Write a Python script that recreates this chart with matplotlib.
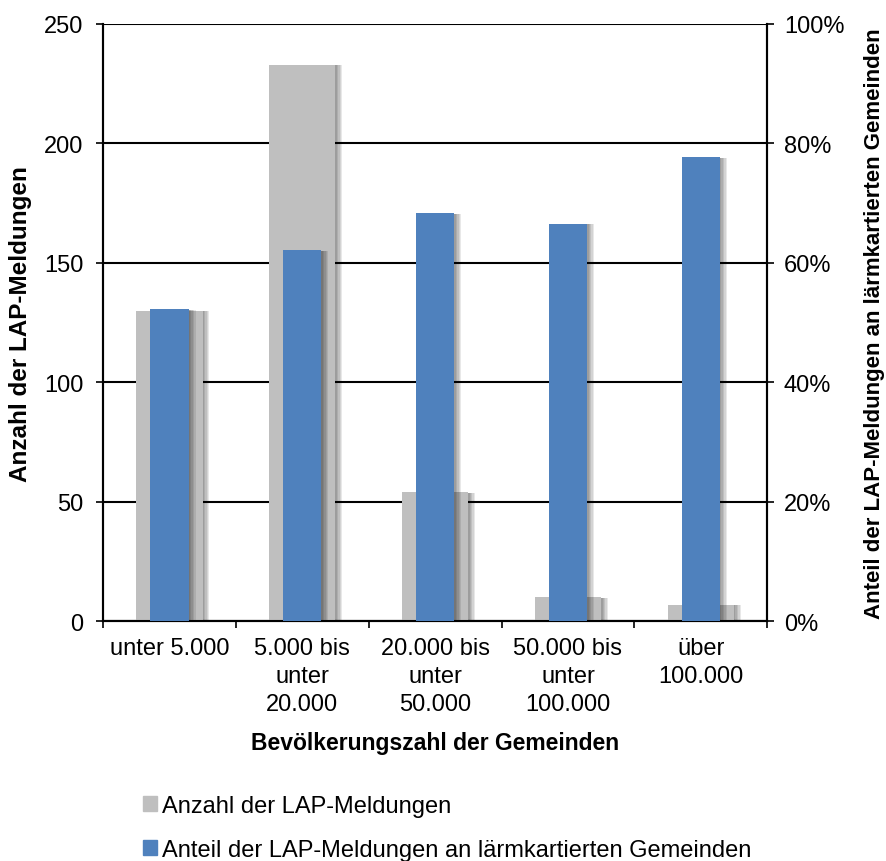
import numpy as np
import matplotlib.pyplot as plt
import matplotlib.patheffects as pe
from matplotlib.patches import Patch
from matplotlib.ticker import PercentFormatter

plt.rcParams['font.family'] = ['Liberation Sans', 'DejaVu Sans']

# Werte
kategorien = ['unter 5.000', '5.000 bis\nunter\n20.000', '20.000 bis\nunter\n50.000',
              '50.000 bis\nunter\n100.000', 'über\n100.000']
anzahl = [130, 233, 54, 10, 7]
anteil = [52.3, 62.1, 68.3, 66.6, 77.7]

grau = '#bfbfbf'
blau = '#4f81bd'
fs = 17

fig = plt.figure(figsize=(8.87, 8.62), dpi=100)
ax = fig.add_axes([0.116, 0.278, 0.749, 0.693])
ax2 = ax.twinx()

x = np.arange(len(kategorien))
# weicher Schatten nach rechts
schatten = [pe.SimplePatchShadow(offset=(d, -0.5), shadow_rgbFace='black', alpha=0.09)
            for d in (1, 2, 3, 4, 5)] + [pe.Normal()]

b1 = ax.bar(x, anzahl, width=0.5, color=grau, zorder=3)
for p in b1:
    p.set_path_effects(schatten)
b2 = ax2.bar(x, anteil, width=0.29, color=blau, zorder=3)
for p in b2:
    p.set_path_effects(schatten)

ax.set_xlim(-0.5, len(kategorien) - 0.5)
ax.set_ylim(0, 250)
ax.set_yticks(range(0, 251, 50))
ax2.set_ylim(0, 100)
ax2.set_yticks(range(0, 101, 20))
ax2.yaxis.set_major_formatter(PercentFormatter(decimals=0))

ax.yaxis.grid(True, color='black', linewidth=1.5, zorder=0)
ax.set_axisbelow(True)

ax.set_xticks(np.arange(len(kategorien) + 1) - 0.5, minor=True)
ax.set_xticks(x)
ax.set_xticklabels(kategorien, fontsize=fs, linespacing=1.35)
ax.tick_params(axis='x', which='major', length=0, pad=11)
ax.tick_params(axis='x', which='minor', length=5, direction='out', width=1.2)
ax.tick_params(axis='y', labelsize=fs, length=5, direction='out', pad=9, width=1.2)
ax2.tick_params(axis='y', labelsize=fs, length=5, direction='out', pad=7, width=1.2)

for a in (ax, ax2):
    a.spines['top'].set_visible(False)
    for s in ('left', 'right', 'bottom'):
        a.spines[s].set_linewidth(1.5)

ax.set_xlabel('Bevölkerungszahl der Gemeinden', fontsize=16.5, fontweight='bold', labelpad=12)
ax.set_ylabel('Anzahl der LAP-Meldungen', fontsize=17.5, fontweight='bold', labelpad=9)
ax2.set_ylabel('Anteil der LAP-Meldungen an lärmkartierten Gemeinden', fontsize=16,
               fontweight='bold', labelpad=14)

handles = [Patch(color=grau), Patch(color=blau)]
labels = ['Anzahl der LAP-Meldungen', 'Anteil der LAP-Meldungen an lärmkartierten Gemeinden']
fig.legend(handles, labels, loc='upper left', bbox_to_anchor=(0.161, 0.077),
           frameon=False, fontsize=fs, handlelength=0.6, handleheight=0.6,
           handletextpad=0.2, labelspacing=0.95, borderaxespad=0, borderpad=0)

fig.savefig('out.png', dpi=100)
